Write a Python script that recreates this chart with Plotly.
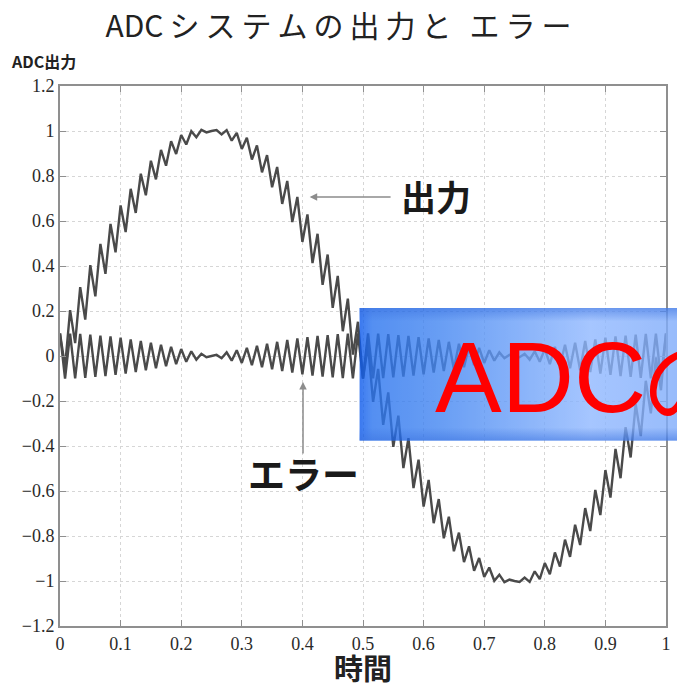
import base64
import plotly.graph_objects as go

# Sample instants of the converter (120 half-periods of the ripple per unit time)
time = [k / 120 for k in range(121)]

# Converter output: sine carrier with the high-frequency ripple riding on it
adc_output = [
    0.100, -0.048, 0.204, 0.057, 0.306, 0.162, 0.404, 0.265, 0.498, 0.365,
    0.587, 0.461, 0.669, 0.551, 0.743, 0.636, 0.810, 0.714, 0.868, 0.785,
    0.916, 0.846, 0.955, 0.898, 0.982, 0.940, 0.999, 0.972, 1.005, 0.994,
    1.000, 1.004, 0.985, 1.004, 0.957, 0.992, 0.920, 0.970, 0.873, 0.936,
    0.816, 0.893, 0.750, 0.840, 0.676, 0.778, 0.595, 0.707, 0.507, 0.629,
    0.413, 0.543, 0.316, 0.451, 0.214, 0.356, 0.110, 0.255, 0.006, 0.152,
    -0.100, 0.048, -0.204, -0.057, -0.306, -0.162, -0.404, -0.265, -0.498, -0.365,
    -0.587, -0.461, -0.669, -0.551, -0.743, -0.636, -0.810, -0.714, -0.868, -0.785,
    -0.916, -0.846, -0.955, -0.898, -0.982, -0.940, -0.999, -0.972, -1.005, -0.994,
    -1.000, -1.004, -0.985, -1.004, -0.957, -0.992, -0.920, -0.970, -0.873, -0.936,
    -0.816, -0.893, -0.750, -0.840, -0.676, -0.778, -0.595, -0.707, -0.507, -0.629,
    -0.413, -0.543, -0.316, -0.451, -0.214, -0.356, -0.110, -0.255, -0.006, -0.152,
    0.100,
]

# Conversion error: ripple whose envelope shrinks near the sine peaks
adc_error = [
    0.100, -0.100, 0.099, -0.099, 0.098, -0.097, 0.095, -0.093, 0.091, -0.089,
    0.087, -0.084, 0.081, -0.078, 0.074, -0.071, 0.067, -0.063, 0.059, -0.054,
    0.050, -0.045, 0.041, -0.036, 0.031, -0.026, 0.021, -0.016, 0.010, -0.005,
    0.000, 0.005, -0.010, 0.016, -0.021, 0.026, -0.031, 0.036, -0.041, 0.045,
    -0.050, 0.054, -0.059, 0.063, -0.067, 0.071, -0.074, 0.078, -0.081, 0.084,
    -0.087, 0.089, -0.091, 0.093, -0.095, 0.097, -0.098, 0.099, -0.099, 0.100,
    -0.100, 0.100, -0.099, 0.099, -0.098, 0.097, -0.095, 0.093, -0.091, 0.089,
    -0.087, 0.084, -0.081, 0.078, -0.074, 0.071, -0.067, 0.063, -0.059, 0.054,
    -0.050, 0.045, -0.041, 0.036, -0.031, 0.026, -0.021, 0.016, -0.010, 0.005,
    0.000, -0.005, 0.010, -0.016, 0.021, -0.026, 0.031, -0.036, 0.041, -0.045,
    0.050, -0.054, 0.059, -0.063, 0.067, -0.071, 0.074, -0.078, 0.081, -0.084,
    0.087, -0.089, 0.091, -0.093, 0.095, -0.097, 0.098, -0.099, 0.099, -0.100,
    0.100,
]

x_ticks = [0, 0.1, 0.2, 0.3, 0.4, 0.5, 0.6, 0.7, 0.8, 0.9, 1]
y_ticks = [-1.2, -1, -0.8, -0.6, -0.4, -0.2, 0, 0.2, 0.4, 0.6, 0.8, 1, 1.2]

JP = "Noto Sans CJK JP"
SERIF = "Liberation Serif"
LINE = "#4a4a4a"
FRAME = "#8f8f8f"

fig = go.Figure()
fig.add_trace(go.Scatter(x=time, y=adc_error, mode="lines",
                         line=dict(color=LINE, width=2.4), hoverinfo="skip"))
fig.add_trace(go.Scatter(x=time, y=adc_output, mode="lines",
                         line=dict(color=LINE, width=2.4), hoverinfo="skip"))

# Blue gradient banner overlaid on the right half
banner_svg = """<svg xmlns='http://www.w3.org/2000/svg' width='320' height='134' viewBox='0 0 320 134' preserveAspectRatio='none'>
<defs>
<linearGradient id='h' x1='0' y1='0' x2='1' y2='0'>
<stop offset='0' stop-color='#0a58ec'/>
<stop offset='0.04' stop-color='#2a74ef'/>
<stop offset='0.25' stop-color='#4386f2'/>
<stop offset='0.72' stop-color='#90b8ff'/>
<stop offset='1' stop-color='#7eabfb'/>
</linearGradient>
<linearGradient id='v' x1='0' y1='0' x2='0' y2='1'>
<stop offset='0' stop-color='#0a4fd8' stop-opacity='0.55'/>
<stop offset='0.1' stop-color='#0a4fd8' stop-opacity='0'/>
<stop offset='0.9' stop-color='#0a4fd8' stop-opacity='0'/>
<stop offset='1' stop-color='#0a4fd8' stop-opacity='0.55'/>
</linearGradient>
</defs>
<rect width='320' height='134' fill='url(#h)'/>
<rect width='320' height='134' fill='url(#v)'/>
</svg>"""
banner_src = "data:image/svg+xml;base64," + base64.b64encode(banner_svg.encode()).decode()

fig.add_layout_image(dict(
    source=banner_src, xref="paper", yref="paper",
    x=0.494, y=0.589, sizex=0.53, sizey=0.246,
    xanchor="left", yanchor="top", sizing="stretch",
    layer="above", opacity=0.8,
))

annotations = [
    # axis caption above the y axis
    dict(text="<b>ADC出力</b>", xref="paper", yref="paper", x=-0.084, y=1.02,
         xanchor="left", yanchor="bottom", showarrow=False,
         font=dict(family=JP, size=16, color="#222")),
    # x-axis caption
    dict(text="<b>時間</b>", xref="paper", yref="paper", x=0.5, y=-0.119,
         xanchor="center", yanchor="bottom", showarrow=False,
         font=dict(family=JP, size=29, color="#222")),
    # label and arrow for the output curve
    dict(text="<b>出力</b>", xref="x", yref="y", x=0.62, y=0.715,
         showarrow=False, font=dict(family=JP, size=35, color="#1a1a1a")),
    dict(text="", xref="x", yref="y", x=0.412, y=0.707,
         axref="x", ayref="y", ax=0.548, ay=0.707, showarrow=True,
         arrowhead=2, arrowsize=1, arrowwidth=1.5, arrowcolor="#8c8c8c"),
    # label and arrow for the error curve
    dict(text="<b>エラー</b>", xref="x", yref="y", x=0.401, y=-0.52,
         showarrow=False, font=dict(family=JP, size=37, color="#1a1a1a")),
    dict(text="", xref="x", yref="y", x=0.401, y=-0.115,
         axref="x", ayref="y", ax=0.401, ay=-0.44, showarrow=True,
         arrowhead=2, arrowsize=1, arrowwidth=1.5, arrowcolor="#8c8c8c"),
    # red banner caption
    dict(text="ADCの出力", xref="paper", yref="paper", x=0.615, y=0.462,
         xanchor="left", yanchor="middle", showarrow=False,
         font=dict(family="Liberation Sans", size=100, color="#ff0000")),
]

axis_common = dict(
    showline=True, linecolor=FRAME, linewidth=1.8, mirror="ticks",
    ticks="inside", ticklen=6, tickcolor=FRAME, tickwidth=1.2,
    showgrid=True, gridcolor="#d6d6d6", griddash="dot", gridwidth=1,
    zeroline=False,
    tickfont=dict(family=SERIF, size=18, color="#2a2a2a"),
)

title_text = ("ADC\u2009" + "\u2009".join("システムの出力と")
              + "\u2009\u2009\u2009" + "\u2009".join("エラー"))

fig.update_layout(
    width=677, height=689,
    margin=dict(l=60, r=6, t=86, b=63),
    paper_bgcolor="white", plot_bgcolor="white",
    showlegend=False,
    title=dict(text=title_text,
               x=0.5, xanchor="center", y=0.962, yanchor="middle",
               font=dict(family=JP, size=30, color="#222")),
    xaxis=dict(range=[0, 1], tickvals=x_ticks, **axis_common),
    yaxis=dict(range=[-1.2, 1.2], tickvals=y_ticks, **axis_common),
    annotations=annotations,
)

fig.write_html("out.html")
